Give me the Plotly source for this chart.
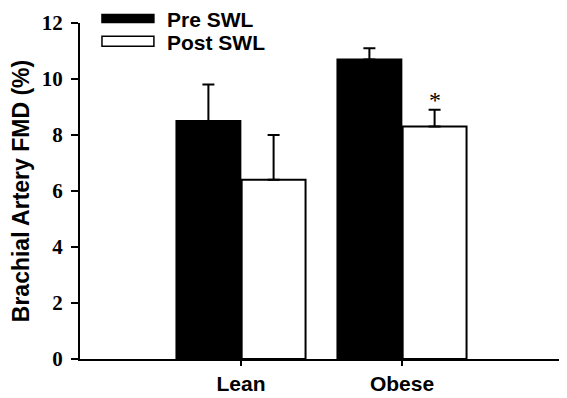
import plotly.graph_objects as go

categories = ["Lean", "Obese"]
pre_values = [8.5, 10.7]
pre_errors = [1.3, 0.4]
post_values = [6.4, 8.3]
post_errors = [1.6, 0.6]
series_names = ["Pre SWL", "Post SWL"]
y_ticks = [0, 2, 4, 6, 8, 10, 12]
significance = ["", "*"]

BARGAP = 0.19
GROUPGAP = 0.02

fig = go.Figure()
fig.add_trace(go.Bar(
    x=categories, y=pre_values, name=series_names[0],
    marker=dict(color="black", line=dict(color="black", width=2)),
    error_y=dict(type="data", array=pre_errors, arrayminus=[0, 0], symmetric=False,
                 color="black", thickness=2, width=6),
    showlegend=False,
))
fig.add_trace(go.Bar(
    x=categories, y=post_values, name=series_names[1],
    marker=dict(color="white", line=dict(color="black", width=2)),
    error_y=dict(type="data", array=post_errors, arrayminus=[0, 0], symmetric=False,
                 color="black", thickness=2, width=6),
    showlegend=False,
))

# significance markers above the post bars
slot = (1 - BARGAP) / 2
for i, mark in enumerate(significance):
    if mark:
        fig.add_annotation(
            x=i + slot / 2, y=post_values[i] + post_errors[i],
            xref="x", yref="y", text=mark, showarrow=False,
            yanchor="bottom", yshift=-5,
            font=dict(family="Liberation Serif", size=24, color="black"),
        )

# custom legend (large rectangles)
legend_items = [
    (series_names[0], "black", 1.0012, 1.0250, 1.0110),
    (series_names[1], "white", 0.9308, 0.9605, 0.9427),
]
for name, fill, y0, y1, yt in legend_items:
    fig.add_shape(type="rect", xref="paper", yref="paper",
                  x0=0.0455, x1=0.153, y0=y0, y1=y1,
                  fillcolor=fill, line=dict(color="black", width=1.5))
    fig.add_annotation(xref="paper", yref="paper", x=0.176, y=yt,
                       xanchor="left", yanchor="middle", showarrow=False,
                       text=f"<b>{name}</b>",
                       font=dict(family="Liberation Sans", size=21, color="black"))

# page body adds an 8px margin, so the figure is 8px smaller on each side
fig.update_layout(
    width=559, height=390,
    margin=dict(l=72, r=4, t=15, b=39),
    plot_bgcolor="white", paper_bgcolor="white",
    barmode="group", bargap=BARGAP, bargroupgap=GROUPGAP,
    xaxis=dict(
        range=[-1, 2], showline=True, linecolor="black", linewidth=2,
        ticks="outside", ticklen=5, tickwidth=1.5, tickcolor="black",
        tickfont=dict(family="Liberation Sans", size=21, color="black", weight="bold"),
        showgrid=False, zeroline=False, automargin=False,
    ),
    yaxis=dict(
        range=[0, 12], tickvals=y_ticks, showline=True, linecolor="black", linewidth=2,
        ticks="outside", ticklen=7, tickwidth=2, tickcolor="black",
        tickfont=dict(family="Liberation Serif", size=21, color="black", weight="bold"),
        ticklabelstandoff=4, automargin=False,
        showgrid=False, zeroline=False,
        title=dict(text="<b>Brachial Artery FMD (%)</b>", standoff=10,
                   font=dict(family="Liberation Sans", size=23, color="black")),
    ),
)

fig.write_html("out.html")
